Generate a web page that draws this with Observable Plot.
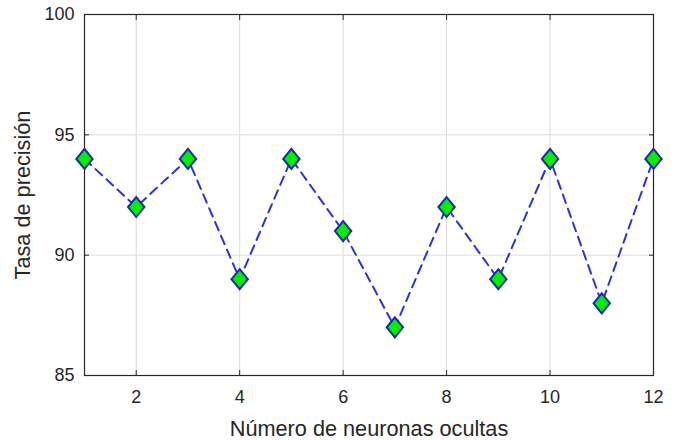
<!DOCTYPE html>
<html>
<head>
<meta charset="utf-8">
<script src="https://cdn.jsdelivr.net/npm/d3@7"></script>
<script src="https://cdn.jsdelivr.net/npm/@observablehq/plot@0.6"></script>
<style>
  html, body { margin: 0; padding: 0; background: #fff; }
  #chart svg { display: block; }
</style>
</head>
<body>
<div id="chart"></div>
<script>
const neurons = [1, 2, 3, 4, 5, 6, 7, 8, 9, 10, 11, 12];
const accuracy = [94, 92, 94, 89, 94, 91, 87, 92, 89, 94, 88, 94];
const xTicks = [2, 4, 6, 8, 10, 12];
const yTicks = [85, 90, 95, 100];
const xLabel = "Número de neuronas ocultas";
const yLabel = "Tasa de precisión";

const data = neurons.map((n, i) => ({n, acc: accuracy[i]}));

const diamond = {
  draw(context, size) {
    const r = Math.sqrt(size / Math.PI);
    const h = r, w = r * 0.82;
    context.moveTo(0, -h);
    context.lineTo(w, 0);
    context.lineTo(0, h);
    context.lineTo(-w, 0);
    context.closePath();
  }
};

const ink = "#262626";
const font = "Liberation Sans, Arial, Helvetica, sans-serif";

const chart = Plot.plot({
  width: 677,
  height: 440,
  marginLeft: 84,
  marginRight: 24,
  marginTop: 14,
  marginBottom: 65,
  style: {fontFamily: font, fontSize: "18px", color: ink, background: "#fff"},
  x: {domain: [1, 12]},
  y: {domain: [85, 100]},
  marks: [
    Plot.gridX(xTicks, {stroke: "#dcdcdc", strokeOpacity: 1}),
    Plot.gridY(yTicks, {stroke: "#dcdcdc", strokeOpacity: 1}),
    Plot.axisX(xTicks, {anchor: "bottom", tickSize: 0, tickPadding: 15, fill: ink, label: xLabel, labelArrow: false, labelAnchor: "center", labelOffset: 60, fontSize: 18}),
    Plot.axisY(yTicks, {anchor: "left", tickSize: 0, tickPadding: 10, fill: ink, label: yLabel, labelArrow: false, labelAnchor: "center", labelOffset: 70, fontSize: 18}),
    Plot.axisX(xTicks, {anchor: "bottom", tickSize: 5, dy: -5, text: null, label: null, stroke: ink}),
    Plot.axisX(xTicks, {anchor: "top", tickSize: 5, dy: 5, text: null, label: null, stroke: ink}),
    Plot.axisY(yTicks, {anchor: "left", tickSize: 5, dx: 5, text: null, label: null, stroke: ink}),
    Plot.axisY(yTicks, {anchor: "right", tickSize: 5, dx: -5, text: null, label: null, stroke: ink}),
    Plot.frame({stroke: ink, strokeWidth: 1.2}),
    Plot.line(data, {x: "n", y: "acc", stroke: "#3030d8", strokeWidth: 2, strokeDasharray: "9,6"}),
    Plot.dot(data, {x: "n", y: "acc", symbol: diamond, r: 10, fill: "#00ee00", stroke: "#1a2aa8", strokeWidth: 2})
  ]
});

// enlarge axis labels
chart.querySelectorAll("[aria-label$='axis label'] text").forEach(t => t.setAttribute("font-size", "21.7"));
document.getElementById("chart").appendChild(chart);
</script>
</body>
</html>
